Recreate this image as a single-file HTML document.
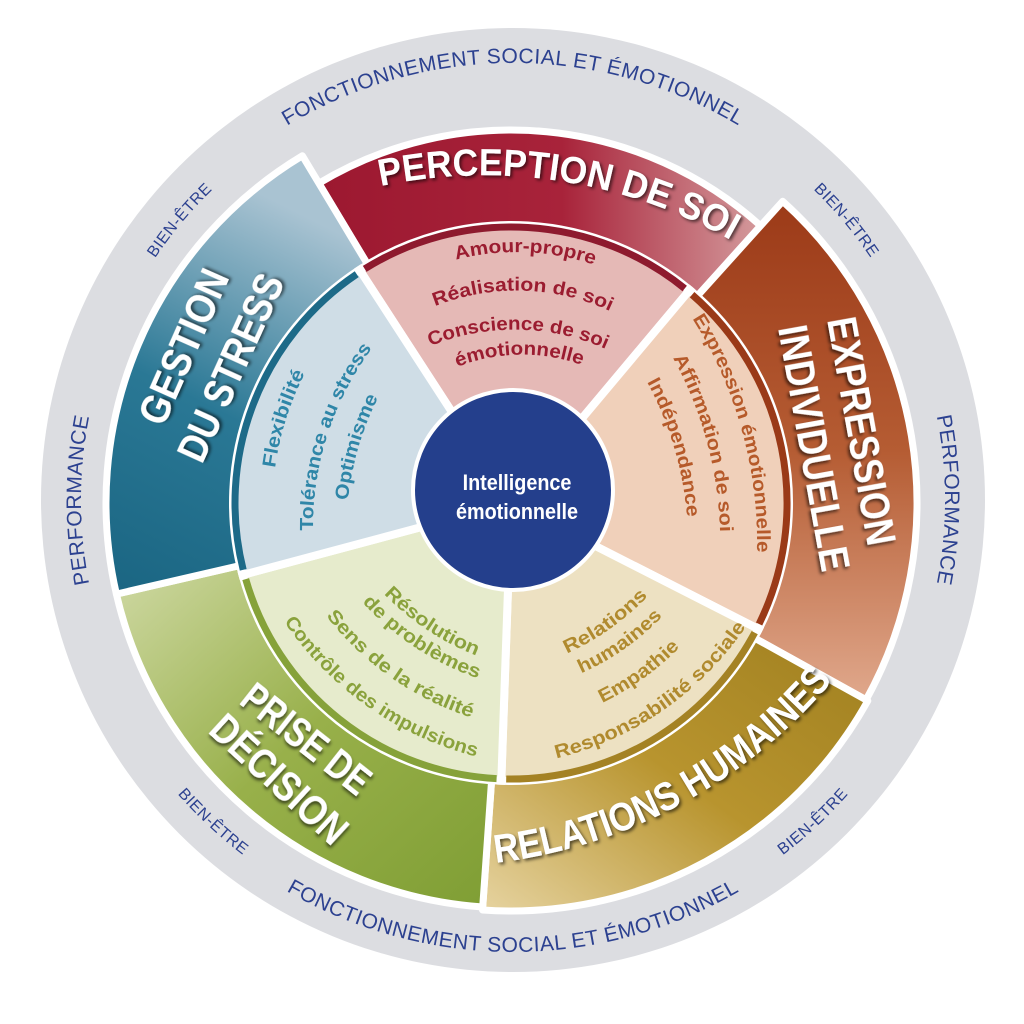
<!DOCTYPE html>
<html><head><meta charset="utf-8"><style>
html,body{margin:0;padding:0;background:#fff;width:1024px;height:1024px;overflow:hidden}
svg{display:block}
.t{font-family:"Liberation Sans",sans-serif;font-weight:bold}
</style></head><body>
<svg id="s" width="1024" height="1024" viewBox="0 0 1024 1024" xmlns="http://www.w3.org/2000/svg">
<defs>
<linearGradient id="gP" x1="0" y1="0" x2="1" y2="0"><stop offset="0" stop-color="#9c1830"/><stop offset=".55" stop-color="#a8233a"/><stop offset="1" stop-color="#d49a9c"/></linearGradient>
<linearGradient id="gE" x1="0" y1="0" x2="0" y2="1"><stop offset="0" stop-color="#9c3a18"/><stop offset=".5" stop-color="#b55c33"/><stop offset="1" stop-color="#e0a88c"/></linearGradient>
<linearGradient id="gR" x1="1" y1="0" x2="0" y2="1"><stop offset="0" stop-color="#a08020"/><stop offset=".5" stop-color="#b8942e"/><stop offset="1" stop-color="#e6d3a0"/></linearGradient>
<linearGradient id="gD" x1="1" y1="1" x2="0" y2="0"><stop offset="0" stop-color="#7f9e34"/><stop offset=".5" stop-color="#98b04a"/><stop offset="1" stop-color="#cfd9a4"/></linearGradient>
<linearGradient id="gG" x1="0" y1="1" x2="0.3" y2="0"><stop offset="0" stop-color="#1a6582"/><stop offset=".5" stop-color="#2a7895"/><stop offset="1" stop-color="#a9c3d2"/></linearGradient>
<filter id="sh" x="-10%" y="-10%" width="120%" height="120%"><feDropShadow dx="2" dy="2" stdDeviation="1.5" flood-color="#000" flood-opacity=".6"/></filter>
</defs>
<g id="g"></g>
</svg>
<script>
var cx=511,cy=503,NS="http://www.w3.org/2000/svg",G=document.getElementById('g');
function P(r,a){a=a*Math.PI/180;return [(cx+r*Math.cos(a)).toFixed(1),(cy+r*Math.sin(a)).toFixed(1)];}
function add(tag,at,txt){var e=document.createElementNS(NS,tag);for(var k in at)e.setAttribute(k,at[k]);if(txt!=null)e.textContent=txt;G.appendChild(e);return e;}
function wedge(r1,r2,a1,a2){var p1=P(r2,a1),p2=P(r2,a2),p3=P(r1,a2),p4=P(r1,a1),l=(a2-a1)>180?1:0;
return "M"+p1+" A"+r2+" "+r2+" 0 "+l+" 1 "+p2+" L"+p3+(r1>0?" A"+r1+" "+r1+" 0 "+l+" 0 "+p4:"")+"Z";}
add('circle',{cx:513,cy:500,r:472,fill:'#dcdde1'});
var RI=278;
var S=[
 {a1:-123,a2:-50,R:373,band:'url(#gP)',inner:'#e5b9b6',line:'#8e1a2e'},
 {a1:-50,a2:27,R:406,band:'url(#gE)',inner:'#f0d0ba',line:'#9a3a18'},
 {a1:27,a2:92,R:408,band:'url(#gR)',inner:'#ede1c2',line:'#a48224'},
 {a1:92,a2:165,R:405,band:'url(#gD)',inner:'#e6ebcc',line:'#86a23a'},
 {a1:165,a2:237,R:405,band:'url(#gG)',inner:'#cfdde6',line:'#1d6a88'}];
S.forEach(function(s){
 add('path',{d:wedge(RI,s.R,s.a1+2,s.a2+2),fill:s.band,stroke:'#fff','stroke-width':7,'stroke-linejoin':'round'});
});
S.forEach(function(s){
 add('path',{d:wedge(0,RI,s.a1,s.a2),fill:s.inner,stroke:'#fff','stroke-width':8});
 var p1=P(RI-2,s.a1+1),p2=P(RI-2,s.a2-1);
 add('path',{d:"M"+p1+" A"+(RI-2)+" "+(RI-2)+" 0 0 1 "+p2,fill:'none',stroke:s.line,'stroke-width':7});
});
add('circle',{cx:513,cy:490,r:100,fill:'#243f8c',stroke:'#fff','stroke-width':4});
add('text',{x:0,y:0,transform:'translate(517 490) scale(0.9 1)','text-anchor':'middle',class:'t',fill:'#fff','font-size':22},'Intelligence');
add('text',{x:0,y:0,transform:'translate(517 519) scale(0.9 1)','text-anchor':'middle',class:'t',fill:'#fff','font-size':22},'émotionnelle');
var pid=0;
function tpath(d,txt,fs,col,opt){opt=opt||{};var id='p'+(pid++);
 var p=document.createElementNS(NS,'path');p.setAttribute('id',id);p.setAttribute('fill','none');p.setAttribute('d',d);G.appendChild(p);
 var t=add('text',{'font-family':'"Liberation Sans",sans-serif','font-size':fs,fill:col,'letter-spacing':opt.ls||0});
 if(opt.bold)t.setAttribute('font-weight','bold');if(opt.sh)t.setAttribute('filter','url(#sh)');
 var tp=document.createElementNS(NS,'textPath');tp.setAttribute('href','#'+id);tp.setAttribute('startOffset','50%');tp.setAttribute('text-anchor','middle');
 if(opt.len){tp.setAttribute('textLength',opt.len);tp.setAttribute('lengthAdjust','spacingAndGlyphs');}
 tp.textContent=txt;t.appendChild(tp);return t;}
var C0x=513,C0y=500;
function arcText(r,a1,a2,cw,txt,fs,col,ls){function Q(a){a=a*Math.PI/180;return (C0x+r*Math.cos(a)).toFixed(1)+","+(C0y+r*Math.sin(a)).toFixed(1);}
 return tpath("M"+Q(a1)+" A"+r+" "+r+" 0 0 "+(cw?1:0)+" "+Q(a2),txt,fs,col,{ls:ls});}
// arc through two points with radius R, extended along the circle
function ap(x1,y1,x2,y2,R,sw,txt,fs,col,len,opt){opt=opt||{};opt.len=len;opt.bold=true;
 var dx=x2-x1,dy=y2-y1,L=Math.sqrt(dx*dx+dy*dy),h=L/2,d=Math.sqrt(Math.max(R*R-h*h,0));
 var nx=-dy/L,ny=dx/L,s=sw?1:-1;
 var ccx=(x1+x2)/2+s*d*nx,ccy=(y1+y2)/2+s*d*ny;
 var a1=Math.atan2(y1-ccy,x1-ccx),a2=Math.atan2(y2-ccy,x2-ccx);
 var ext=25/R;
 if(sw){while(a2<a1)a2+=2*Math.PI;a1-=ext;a2+=ext;}else{while(a2>a1)a2-=2*Math.PI;a1+=ext;a2-=ext;}
 function Q(a){return (ccx+R*Math.cos(a)).toFixed(1)+","+(ccy+R*Math.sin(a)).toFixed(1);}
 return tpath("M"+Q(a1)+" A"+R+" "+R+" 0 0 "+sw+" "+Q(a2),txt,fs,col,opt);}
var bl='#2c4190';
arcText(437,-150,-30,1,'FONCTIONNEMENT SOCIAL ET ÉMOTIONNEL',21,bl,0.5);
arcText(452,150,30,0,'FONCTIONNEMENT SOCIAL ET ÉMOTIONNEL',21,bl,0.5);
arcText(432,130,230,1,'PERFORMANCE',21,bl,0.5);
arcText(432,-50,50,1,'PERFORMANCE',21,bl,0.5);
arcText(432,-165,-115,1,'BIEN-ÊTRE',16,bl,0.5);
arcText(432,-65,-15,1,'BIEN-ÊTRE',16,bl,0.5);
arcText(446,158,108,0,'BIEN-ÊTRE',16,bl,0.5);
arcText(446,72,22,0,'BIEN-ÊTRE',16,bl,0.5);
ap(387,185,725,237,500,1,'PERCEPTION DE SOI',38,'#fff',362,{sh:1});
ap(495,863,833,680,520,0,'RELATIONS HUMAINES',40,'#fff',392,{sh:1});
function rt(x1,y1,x2,y2,txt,fs,col,len,sh){var mx=(x1+x2)/2,my=(y1+y2)/2,ang=Math.atan2(y2-y1,x2-x1)*180/Math.PI;
 var t=add('text',{x:0,y:0,transform:'translate('+mx+' '+my+') rotate('+ang.toFixed(1)+')','text-anchor':'middle',class:'t','font-size':fs,fill:col,textLength:len,lengthAdjust:'spacingAndGlyphs'},txt);if(sh)t.setAttribute('filter','url(#sh)');return t;}
rt(163,428,230,277,'GESTION',42,'#fff',165,1);
rt(202,465,285,282,'DU STRESS',42,'#fff',201,1);
rt(827,320,868,547,'EXPRESSION',42,'#fff',231,1);
rt(778,328,822,573,'INDIVIDUELLE',42,'#fff',249,1);
rt(238,703,357,797,'PRISE DE',42,'#fff',152,1);
rt(207,732,332,847,'DÉCISION',42,'#fff',170,1);
var cP='#9b1c30';
ap(455,260,595,265,245,1,'Amour-propre',19,cP,140);
ap(433,307,612,312,222,1,'Réalisation de soi',19,cP,180);
ap(428,347,608,350,225,1,'Conscience de soi',19,cP,180);
ap(457,367,582,365,178,1,'émotionnelle',19,cP,127);
var cG='#2f86a8';
ap(275,468,305,373,300,1,'Flexibilité',19,cG,100);
ap(313,532,373,347,300,1,'Tolérance au stress',19,cG,195);
ap(348,500,378,398,300,1,'Optimisme',19,cG,108);
var cE='#b65a2a';
ap(692,318,757,553,420,1,'Expression émotionnelle',19,cE,246);
ap(673,358,720,532,380,1,'Affirmation de soi',19,cE,182);
ap(647,382,687,517,340,1,'Indépendance',19,cE,142);
var cR='#b08a2e';
ap(568,653,647,597,260,0,'Relations',19,cR,100);
ap(582,673,662,617,260,0,'humaines',19,cR,100);
ap(602,703,680,647,280,0,'Empathie',19,cR,96);
ap(558,758,745,628,320,0,'Responsabilité sociale',19,cR,236);
var cD='#8aa23c';
ap(385,595,475,655,260,0,'Résolution',19,cD,112);
ap(363,603,477,678,280,0,'de problèmes',19,cD,140);
ap(327,617,470,717,300,0,'Sens de la réalité',19,cD,180);
ap(283,620,478,757,330,0,'Contrôle des impulsions',19,cD,240);
</script>
</body></html>
